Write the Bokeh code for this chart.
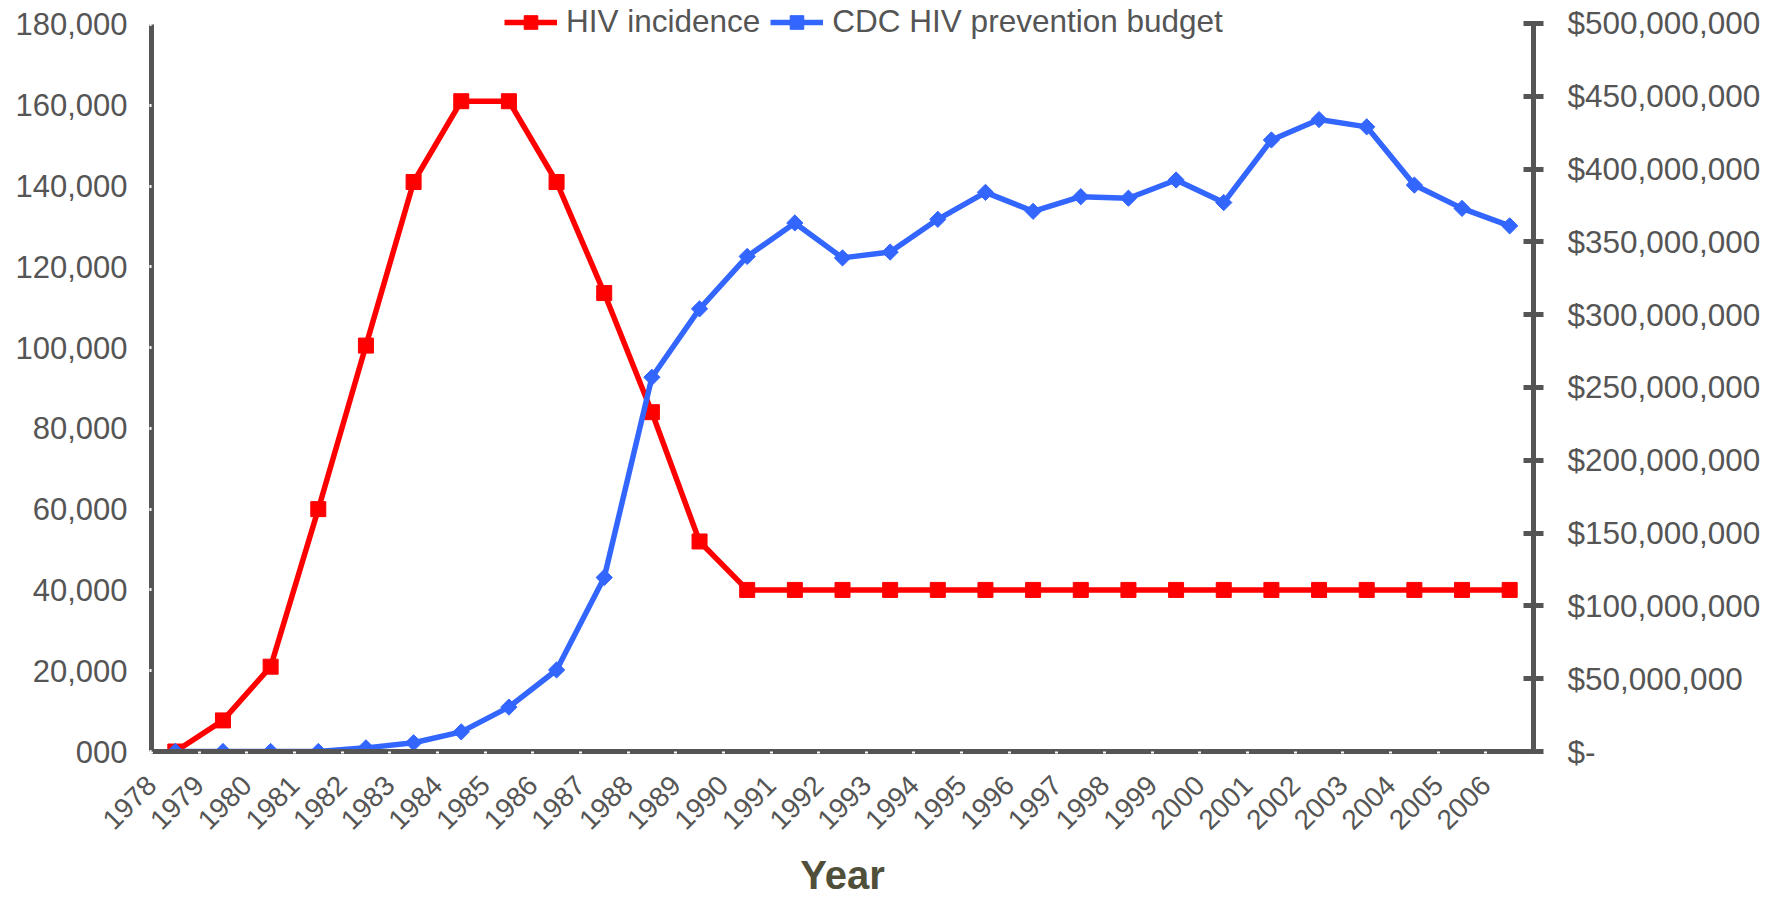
import numpy as np
from bokeh.plotting import figure
from bokeh.models import (Range1d, LinearAxis, FixedTicker, NumeralTickFormatter,
                          Legend, LegendItem)
from bokeh.embed import file_html
from bokeh.resources import INLINE

# ---- data ----
years = [str(y) for y in range(1978, 2007)]
hiv_incidence = [0, 7700, 21000, 60000, 100500, 141000, 161000, 161000, 141000, 113500,
                 84000, 52000, 40000, 40000, 40000, 40000, 40000, 40000, 40000, 40000,
                 40000, 40000, 40000, 40000, 40000, 40000, 40000, 40000, 40000]
cdc_budget = [0, 0, 0, 0, 2500000, 6000000, 13500000, 30500000, 56000000, 119500000,
              257000000, 304000000, 340000000, 363000000, 339000000, 343000000, 365500000,
              384000000, 371000000, 381000000, 380000000, 392500000, 377000000, 420000000,
              434000000, 429000000, 389000000, 373000000, 361000000]
left_ticks = [0, 20000, 40000, 60000, 80000, 100000, 120000, 140000, 160000, 180000]
left_labels = ["000", "20,000", "40,000", "60,000", "80,000", "100,000", "120,000",
               "140,000", "160,000", "180,000"]
right_ticks = [0, 50e6, 100e6, 150e6, 200e6, 250e6, 300e6, 350e6, 400e6, 450e6, 500e6]
right_labels = ["$-", "$50,000,000", "$100,000,000", "$150,000,000", "$200,000,000",
                "$250,000,000", "$300,000,000", "$350,000,000", "$400,000,000",
                "$450,000,000", "$500,000,000"]

FONT = "Liberation Sans"
AXIS_COL = "#555555"
TEXT_COL = "#555555"
RED = "#FF0000"
BLUE = "#3366FF"

W, H = 1765, 899
FL, FR, FB = 151, 1533, 752   # frame edges in canvas px (frame top = 0)
LEFT_TOP_PX, RIGHT_TOP_PX = 24, 23   # where the top ticks sit

x_pos = [i + 0.5 for i in range(len(years))]
left_max = left_ticks[-1]
right_max = right_ticks[-1]

p = figure(width=W, height=H, output_backend="svg", toolbar_location=None,
           x_range=Range1d(0, len(years)),
           y_range=Range1d(0, left_max * FB / (FB - LEFT_TOP_PX)),
           min_border_left=FL, min_border_right=W - FR, min_border_top=0,
           min_border_bottom=H - FB)
p.outline_line_color = None
p.xgrid.visible = False
p.ygrid.visible = False
p.background_fill_color = "white"

p.extra_y_ranges = {"budget": Range1d(0, right_max * FB / (FB - RIGHT_TOP_PX))}

r_line = p.line(x_pos, hiv_incidence, line_color=RED, line_width=5.5)
r_mark = p.scatter(x_pos, hiv_incidence, marker="square", size=15, fill_color=RED, line_color=RED)
b_line = p.line(x_pos, cdc_budget, line_color=BLUE, line_width=5.5, y_range_name="budget")
b_mark = p.scatter(x_pos, cdc_budget, marker="square", angle=np.pi / 4, size=11.5,
                   fill_color=BLUE, line_color=BLUE, y_range_name="budget")

# x axis
xa = p.xaxis[0]
xa.ticker = FixedTicker(ticks=list(range(len(years))))
xa.major_label_overrides = {i: years[i] for i in range(len(years))}
xa.major_label_orientation = np.pi / 4
xa.major_label_text_font = FONT
xa.major_label_text_font_size = "28px"
xa.major_label_text_color = TEXT_COL
xa.axis_line_color = AXIS_COL
xa.axis_line_width = 5
xa.major_tick_line_color = "white"
xa.major_tick_line_width = 3
xa.major_tick_in = 0
xa.major_tick_out = 2
xa.minor_tick_line_color = None
xa.major_label_standoff = 27
xa.axis_label = "Year"
xa.axis_label_text_font = FONT
xa.axis_label_text_font_style = "bold"
xa.axis_label_text_font_size = "40px"
xa.axis_label_text_color = "#4F4F3A"
xa.axis_label_standoff = 12

# left axis
ya = p.yaxis[0]
ya.bounds = (0, left_max)
ya.ticker = FixedTicker(ticks=left_ticks)
ya.formatter = NumeralTickFormatter(format="0,0")
ya.major_label_overrides = {left_ticks[i]: left_labels[i] for i in range(len(left_ticks))}
ya.major_label_text_font = FONT
ya.major_label_text_font_size = "31px"
ya.major_label_text_color = TEXT_COL
ya.axis_line_color = AXIS_COL
ya.axis_line_width = 5
ya.major_tick_line_color = "white"
ya.major_tick_line_width = 3
ya.major_tick_in = 0
ya.major_tick_out = 2
ya.minor_tick_line_color = None
ya.major_label_standoff = 22

# right axis
ra = LinearAxis(y_range_name="budget", bounds=(0, right_max))
ra.ticker = FixedTicker(ticks=right_ticks)
ra.major_label_overrides = {right_ticks[i]: right_labels[i] for i in range(len(right_ticks))}
ra.major_label_text_font = FONT
ra.major_label_text_font_size = "31.5px"
ra.major_label_text_color = TEXT_COL
ra.axis_line_color = AXIS_COL
ra.axis_line_width = 5
ra.major_tick_line_color = AXIS_COL
ra.major_tick_line_width = 5
ra.major_tick_in = 10
ra.major_tick_out = 10
ra.minor_tick_line_color = None
ra.major_label_standoff = 24
p.add_layout(ra, "right")

legend = Legend(items=[LegendItem(label="HIV incidence", renderers=[r_line, r_mark]),
                       LegendItem(label="CDC HIV prevention budget", renderers=[b_line, b_mark])],
                orientation="horizontal", location=(353, 711))
legend.label_text_font = FONT
legend.label_text_font_size = "31.5px"
legend.label_text_color = TEXT_COL
legend.glyph_width = 53
legend.glyph_height = 34
legend.label_height = 34
legend.label_standoff = 9
legend.spacing = 10
legend.padding = 0
legend.margin = 0
legend.border_line_color = None
legend.background_fill_alpha = 0
p.add_layout(legend, "center")

open("out.html", "w").write(file_html(p, INLINE))
